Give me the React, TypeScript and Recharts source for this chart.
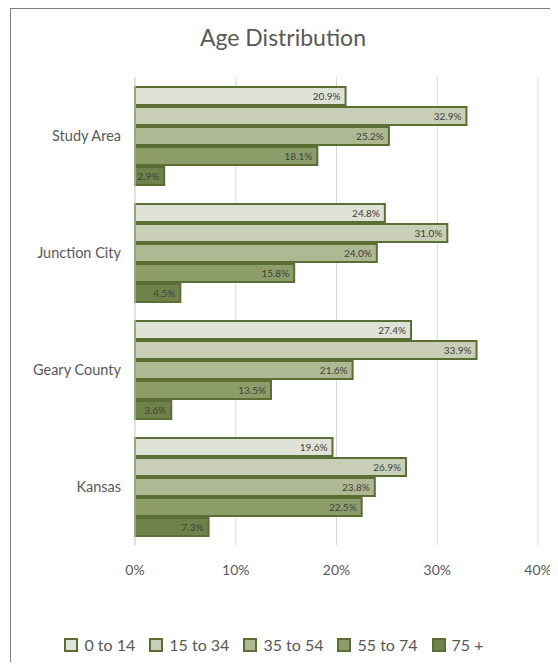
import {
  BarChart,
  Bar,
  XAxis,
  YAxis,
  CartesianGrid,
  Legend,
  LabelList,
} from "recharts";

const categories = ["Study Area", "Junction City", "Geary County", "Kansas"];
const ageGroups = ["0 to 14", "15 to 34", "35 to 54", "55 to 74", "75 +"];

const age0to14 = [20.9, 24.8, 27.4, 19.6];
const age15to34 = [32.9, 31.0, 33.9, 26.9];
const age35to54 = [25.2, 24.0, 21.6, 23.8];
const age55to74 = [18.1, 15.8, 13.5, 22.5];
const age75plus = [2.9, 4.5, 3.6, 7.3];

const xTicks = [0, 10, 20, 30, 40];

const series = [age0to14, age15to34, age35to54, age55to74, age75plus];
const FILLS = ["#dfe2d7", "#c9cfb6", "#aeb892", "#8d9d6a", "#6f824b"];
const STROKE = "#5b6e34";
const FONT = "Lato, 'Open Sans', sans-serif";

const chartData = categories.map((name, i) => {
  const row: Record<string, string | number> = { name };
  ageGroups.forEach((g, j) => {
    row[g] = series[j][i];
  });
  return row;
});

const renderLegend = () => (
  <div
    style={{
      display: "flex",
      justifyContent: "center",
      gap: 14,
      fontFamily: FONT,
      fontSize: 16,
      color: "#595959",
    }}
  >
    {ageGroups.map((g, i) => (
      <div key={g} style={{ display: "flex", alignItems: "center", gap: 6 }}>
        <span
          style={{
            display: "inline-block",
            width: 10,
            height: 10,
            background: FILLS[i],
            border: `2px solid ${STROKE}`,
          }}
        />
        <span>{g}</span>
      </div>
    ))}
  </div>
);

export default function App() {
  return (
    <div style={{ position: "relative", width: 558, height: 670, margin: -8, overflow: "hidden", background: "#fff" }}>
      <div
        style={{
          position: "absolute",
          left: 10,
          top: 8,
          width: 546,
          height: 700,
          border: "1px solid #7f7f7f",
        }}
      />
      <div
        style={{
          position: "absolute",
          top: 23,
          left: 10,
          width: 546,
          textAlign: "center",
          fontFamily: FONT,
          fontSize: 23,
          color: "#595959",
        }}
      >
        Age Distribution
      </div>
      <div style={{ position: "absolute", left: 0, top: 0 }}>
        <BarChart
          width={558}
          height={670}
          data={chartData}
          layout="vertical"
          barSize={18}
          barGap={2}
          margin={{ top: 77, right: 20, left: 10, bottom: 5 }}
        >
          <CartesianGrid stroke="#d9d9d9" horizontal={false} vertical={true} />
          <XAxis
            type="number"
            domain={[0, 40]}
            ticks={xTicks}
            tickFormatter={(v) => `${v}%`}
            tick={{ fontSize: 14, fill: "#595959", fontFamily: FONT }}
            tickLine={false}
            axisLine={false}
            height={90}
            tickMargin={14}
          />
          <YAxis
            type="category"
            dataKey="name"
            width={125}
            tick={{ fontSize: 14.5, fill: "#595959", fontFamily: FONT }}
            tickLine={false}
            axisLine={{ stroke: "#d9d9d9" }}
            tickMargin={8}
          />
          <Legend verticalAlign="bottom" height={30} content={renderLegend} />
          {ageGroups.map((g, i) => (
            <Bar
              key={g}
              dataKey={g}
              fill={FILLS[i]}
              stroke={STROKE}
              strokeWidth={2}
              isAnimationActive={false}
            >
              <LabelList
                dataKey={g}
                position="insideRight"
                formatter={(v: number) => `${v.toFixed(1)}%`}
                style={{ fontSize: 10, fill: "#404040", fontFamily: FONT }}
              />
            </Bar>
          ))}
        </BarChart>
      </div>
    </div>
  );
}
